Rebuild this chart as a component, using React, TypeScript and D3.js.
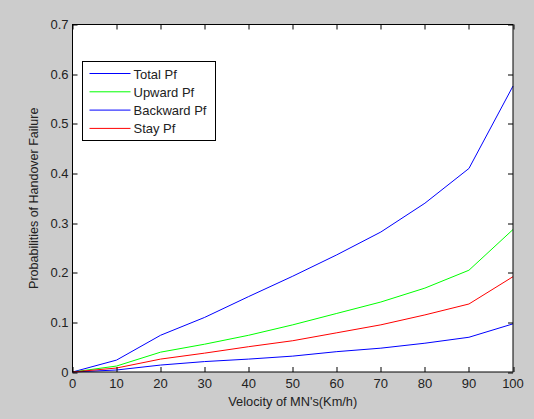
import React, { useEffect, useRef } from "react";
import * as d3 from "d3";

const velocity = [0, 10, 20, 30, 40, 50, 60, 70, 80, 90, 100];
const totalPf = [0, 0.024, 0.074, 0.11, 0.152, 0.193, 0.236, 0.282, 0.34, 0.41, 0.576];
const upwardPf = [0, 0.012, 0.04, 0.056, 0.074, 0.095, 0.118, 0.141, 0.169, 0.205, 0.287];
const backwardPf = [0, 0.004, 0.014, 0.021, 0.026, 0.032, 0.041, 0.048, 0.058, 0.07, 0.097];
const stayPf = [0, 0.008, 0.026, 0.038, 0.051, 0.063, 0.079, 0.095, 0.115, 0.137, 0.192];

const seriesNames = ["Total Pf", "Upward Pf", "Backward Pf", "Stay Pf"];
const seriesColors = ["#0000ff", "#00ff00", "#0000ff", "#ff0000"];
const xTicks = [0, 10, 20, 30, 40, 50, 60, 70, 80, 90, 100];
const yTicks = [0, 0.1, 0.2, 0.3, 0.4, 0.5, 0.6, 0.7];

const App = () => {
  const svgRef = useRef<SVGSVGElement>(null);

  useEffect(() => {
    const W = 534;
    const H = 419;
    const margin = { top: 24.5, right: 21, bottom: 47, left: 72.5 };
    const width = W - margin.left - margin.right;
    const height = H - margin.top - margin.bottom;
    const font = "Arial, 'Liberation Sans', sans-serif";

    const root = d3.select(svgRef.current);
    root.selectAll("*").remove();
    root.attr("width", W).attr("height", H);

    root.append("rect").attr("width", W).attr("height", H).attr("fill", "#cccccc");

    const svg = root.append("g").attr("transform", `translate(${margin.left},${margin.top})`);

    const x = d3.scaleLinear().domain([0, 100]).range([0, width]);
    const y = d3.scaleLinear().domain([0, 0.7]).range([height, 0]);

    svg.append("rect").attr("width", width).attr("height", height).attr("fill", "#ffffff");

    const all = [totalPf, upwardPf, backwardPf, stayPf];
    const line = d3
      .line<number>()
      .x((_, i) => x(velocity[i]))
      .y((d) => y(d));

    all.forEach((vals, k) => {
      svg
        .append("path")
        .datum(vals)
        .attr("d", line)
        .attr("fill", "none")
        .attr("stroke", seriesColors[k])
        .attr("stroke-width", 1);
    });

    // axes, ticks inward on all four sides
    const tl = 5;
    const axes = svg.append("g").attr("stroke", "#000").attr("stroke-width", 1);
    axes
      .append("rect")
      .attr("width", width)
      .attr("height", height)
      .attr("fill", "none");
    xTicks.forEach((t) => {
      const px = Math.round(x(t)) + 0.5;
      axes.append("line").attr("x1", px).attr("x2", px).attr("y1", height).attr("y2", height - tl);
      axes.append("line").attr("x1", px).attr("x2", px).attr("y1", 0).attr("y2", tl);
    });
    yTicks.forEach((t) => {
      const py = Math.round(y(t)) + 0.5;
      axes.append("line").attr("x1", 0).attr("x2", tl).attr("y1", py).attr("y2", py);
      axes.append("line").attr("x1", width).attr("x2", width - tl).attr("y1", py).attr("y2", py);
    });

    const labels = svg.append("g").attr("font-family", font).attr("font-size", 13).attr("fill", "#222");
    xTicks.forEach((t) => {
      labels
        .append("text")
        .attr("x", x(t))
        .attr("y", height + 16)
        .attr("text-anchor", "middle")
        .text(String(t));
    });
    yTicks.forEach((t) => {
      labels
        .append("text")
        .attr("x", -4)
        .attr("y", y(t) + 4.5)
        .attr("text-anchor", "end")
        .text(t === 0 ? "0" : t.toFixed(1));
    });

    labels
      .append("text")
      .attr("x", width / 2)
      .attr("y", height + 34)
      .attr("text-anchor", "middle")
      .attr("font-size", 12.8)
      .text("Velocity of MN's(Km/h)");

    labels
      .append("text")
      .attr("transform", `translate(${-35},${height / 2}) rotate(-90)`)
      .attr("text-anchor", "middle")
      .attr("font-size", 12.5)
      .text("Probabilities of Handover Failure");

    // legend
    const lg = svg.append("g").attr("transform", `translate(${82.5 - margin.left},${61.5 - margin.top})`);
    lg.append("rect")
      .attr("width", 133)
      .attr("height", 79)
      .attr("fill", "#ffffff")
      .attr("stroke", "#000");
    seriesNames.forEach((name, i) => {
      const ly = 12 + i * 18.3;
      lg.append("line")
        .attr("x1", 7)
        .attr("x2", 48)
        .attr("y1", ly)
        .attr("y2", ly)
        .attr("stroke", seriesColors[i])
        .attr("stroke-width", 1);
      lg.append("text")
        .attr("x", 51)
        .attr("y", ly + 5)
        .attr("font-family", font)
        .attr("font-size", 13)
        .attr("fill", "#222")
        .text(name);
    });
  }, []);

  return <svg ref={svgRef} style={{ position: "absolute", left: 0, top: 0 }}></svg>;
};

export default App;
